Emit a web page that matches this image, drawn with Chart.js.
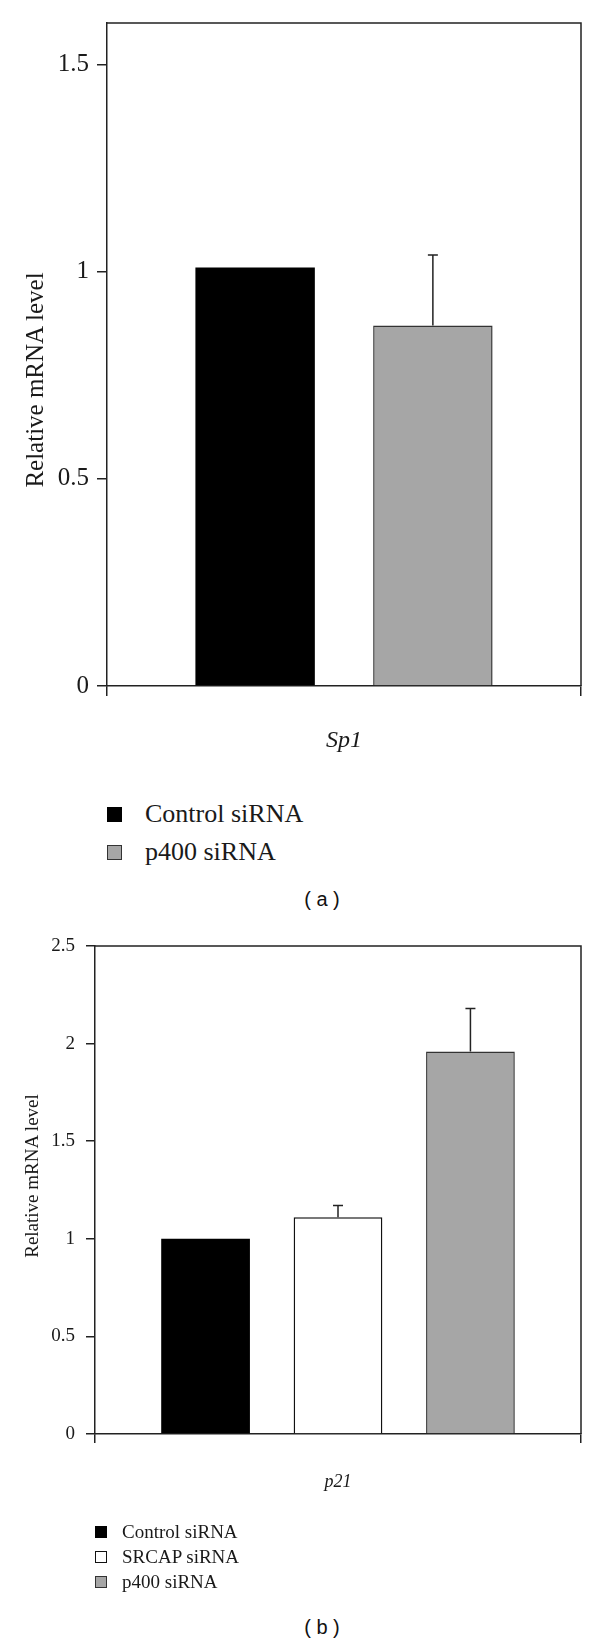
<!DOCTYPE html>
<html>
<head>
<meta charset="utf-8">
<script src="https://cdn.jsdelivr.net/npm/chart.js"></script>
<style>
    body { margin: 0; background: #fff; }
    #page { position: relative; width: 600px; height: 1644px; overflow: hidden; }
    canvas { position: absolute; left: 0; }
    .ytitle { position: absolute; width: 300px; height: 30px; line-height: 30px; text-align: center;
              font-family: 'Liberation Serif', 'Times New Roman', serif; color: #1a1a1a;
              transform: rotate(-90deg); white-space: nowrap; }
    .caption { position: absolute; left: 272px; width: 100px; text-align: center;
               font-family: 'Liberation Sans', Arial, sans-serif; font-size: 20px; color: #111; }
    .legend-row { position: absolute; display: flex; align-items: center;
                  font-family: 'Liberation Serif', 'Times New Roman', serif; color: #1a1a1a; white-space: nowrap; }
    .legend-row span.box { display: inline-block; box-sizing: border-box; }
</style>
</head>
<body>
<div id="page">
    <canvas id="chartA" width="600" height="780" style="top:0px"></canvas>
    <canvas id="chartB" width="600" height="600" style="top:920px"></canvas>
    <div class="ytitle" id="titleA" style="left:-115px; top:365px; font-size:25px;">Relative mRNA level</div>
    <div class="ytitle" id="titleB" style="left:-118px; top:1161px; font-size:19px;">Relative mRNA level</div>
    <div id="legendA"></div>
    <div id="legendB"></div>
    <div class="caption" style="top:888px">( a )</div>
    <div class="caption" style="top:1616px">( b )</div>
</div>
<script>
// panel (a): Sp1
var genesA = ['Sp1'];
var seriesA = ['Control siRNA', 'p400 siRNA'];
var controlA = [1.01];
var p400A = [0.87];
var controlErrA = [0];
var p400ErrA = [0.17];
var ticksA = [0, 0.5, 1, 1.5];

// panel (b): p21
var genesB = ['p21'];
var seriesB = ['Control siRNA', 'SRCAP siRNA', 'p400 siRNA'];
var controlB = [1.0];
var srcapB = [1.11];
var p400B = [1.96];
var controlErrB = [0];
var srcapErrB = [0.06];
var p400ErrB = [0.22];
var ticksB = [0, 0.5, 1, 1.5, 2, 2.5];

var serif = "'Liberation Serif', 'Times New Roman', serif";
var lineColor = '#222';
var fills = ['#000000', '#ffffff', '#a6a6a6'];
var edges = ['#000000', '#111111', '#333333'];

// box round the plot area (top and right sides)
var framePlugin = {
    id: 'frame',
    afterDraw: function (chart) {
        var a = chart.chartArea, ctx = chart.ctx;
        ctx.save();
        ctx.strokeStyle = lineColor;
        ctx.lineWidth = 1.5;
        ctx.beginPath();
        ctx.moveTo(a.left, a.top);
        ctx.lineTo(a.right, a.top);
        ctx.lineTo(a.right, a.bottom);
        ctx.stroke();
        ctx.restore();
    }
};

// upper error bars, from dataset.errors
var errorPlugin = {
    id: 'errorBars',
    afterDatasetsDraw: function (chart) {
        var ctx = chart.ctx, y = chart.scales.y;
        ctx.save();
        ctx.strokeStyle = lineColor;
        ctx.lineWidth = 1.5;
        chart.data.datasets.forEach(function (ds, i) {
            var meta = chart.getDatasetMeta(i);
            meta.data.forEach(function (bar, j) {
                var err = ds.errors ? ds.errors[j] : 0;
                if (!err) return;
                var top = y.getPixelForValue(ds.data[j] + err);
                ctx.beginPath();
                ctx.moveTo(bar.x, bar.y);
                ctx.lineTo(bar.x, top);
                ctx.moveTo(bar.x - 5, top);
                ctx.lineTo(bar.x + 5, top);
                ctx.stroke();
            });
        });
        ctx.restore();
    }
};

function makeScales(tickVals, max, tickFont, labelFont, yWidth, xHeight, tickLen, yPad, xPad) {
    return {
        x: {
            grid: { offset: true, drawOnChartArea: false, tickLength: tickLen, color: lineColor, lineWidth: 1.5 },
            border: { color: lineColor, width: 1.5 },
            ticks: { padding: xPad, color: '#1a1a1a', font: { family: serif, size: labelFont, style: 'italic' } },
            afterFit: function (s) { s.height = xHeight; }
        },
        y: {
            min: 0,
            max: max,
            afterBuildTicks: function (s) { s.ticks = tickVals.map(function (v) { return { value: v }; }); },
            grid: { drawOnChartArea: false, tickLength: tickLen, color: lineColor, lineWidth: 1.5 },
            border: { color: lineColor, width: 1.5 },
            ticks: {
                padding: yPad,
                color: '#1a1a1a',
                font: { family: serif, size: tickFont },
                callback: function (v) { return String(v); }
            },
            afterFit: function (s) { s.width = yWidth; }
        }
    };
}

function buildLegend(id, names, colorIdx, left, textLeft, centers, box, fontSize) {
    var el = document.getElementById(id);
    names.forEach(function (name, i) {
        var row = document.createElement('div');
        row.className = 'legend-row';
        row.style.left = left + 'px';
        row.style.top = (centers[i] - 15) + 'px';
        row.style.height = '30px';
        row.style.fontSize = fontSize + 'px';
        var sq = document.createElement('span');
        sq.className = 'box';
        sq.style.width = box + 'px';
        sq.style.height = box + 'px';
        sq.style.background = fills[colorIdx[i]];
        sq.style.border = '1.5px solid ' + edges[colorIdx[i]];
        sq.style.marginRight = (textLeft - left - box) + 'px';
        var txt = document.createElement('span');
        txt.textContent = name;
        row.appendChild(sq);
        row.appendChild(txt);
        el.appendChild(row);
    });
}

document.addEventListener("DOMContentLoaded", function () {
    var ctxA = document.getElementById('chartA').getContext('2d');
    new Chart(ctxA, {
        type: 'bar',
        data: {
            labels: genesA,
            datasets: [{
                label: seriesA[0],
                data: controlA,
                errors: controlErrA,
                backgroundColor: fills[0],
                borderColor: edges[0],
                borderWidth: 0
            },
            {
                label: seriesA[1],
                data: p400A,
                errors: p400ErrA,
                backgroundColor: fills[2],
                borderColor: edges[2],
                borderWidth: 1.5
            }]
        },
        options: {
            responsive: false,
            animation: false,
            layout: { padding: { top: 21, right: 19, left: 0, bottom: 0 } },
            datasets: { bar: { categoryPercentage: 0.75, barPercentage: 0.672 } },
            plugins: { legend: { display: false }, tooltip: { enabled: false } },
            scales: makeScales(ticksA, 1.6, 25, 24, 107, 94, 10, 8, 30)
        },
        plugins: [framePlugin, errorPlugin]
    });

    var ctxB = document.getElementById('chartB').getContext('2d');
    new Chart(ctxB, {
        type: 'bar',
        data: {
            labels: genesB,
            datasets: [{
                label: seriesB[0],
                data: controlB,
                errors: controlErrB,
                backgroundColor: fills[0],
                borderColor: edges[0],
                borderWidth: 0
            },
            {
                label: seriesB[1],
                data: srcapB,
                errors: srcapErrB,
                backgroundColor: fills[1],
                borderColor: edges[1],
                borderWidth: 1.5
            },
            {
                label: seriesB[2],
                data: p400B,
                errors: p400ErrB,
                backgroundColor: fills[2],
                borderColor: edges[2],
                borderWidth: 1.5
            }]
        },
        options: {
            responsive: false,
            animation: false,
            layout: { padding: { top: 26, right: 19, left: 0, bottom: 0 } },
            datasets: { bar: { categoryPercentage: 0.8175, barPercentage: 0.67 } },
            plugins: { legend: { display: false }, tooltip: { enabled: false } },
            scales: makeScales(ticksB, 2.5, 19, 18, 95, 86, 9, 11, 28)
        },
        plugins: [framePlugin, errorPlugin]
    });

    buildLegend('legendA', seriesA, [0, 2], 107, 145, [814, 852], 15, 26);
    buildLegend('legendB', seriesB, [0, 1, 2], 95, 122, [1532, 1557, 1582], 12, 19);
});
</script>
</body>
</html>
